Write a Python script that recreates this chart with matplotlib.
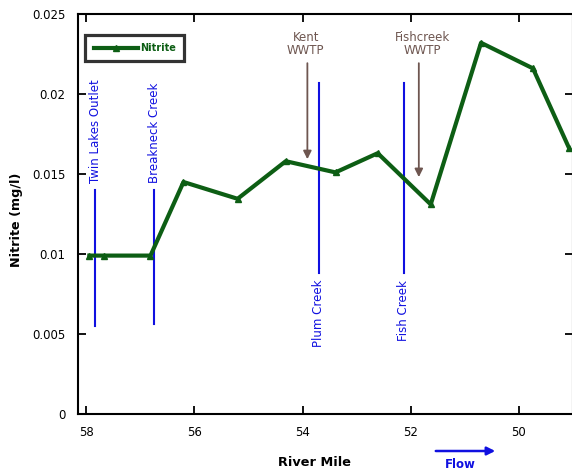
import matplotlib
matplotlib.use("Agg")
import matplotlib.pyplot as plt

plt.rcParams['font.family'] = ['DejaVu Sans']

river_mile = [57.94, 57.67, 56.81, 56.20, 55.20, 54.31, 53.39, 52.61, 51.63, 50.70, 49.74, 49.07]
nitrite = [0.0099, 0.0099, 0.0099, 0.0145, 0.01345, 0.0158, 0.0151, 0.0163, 0.0131, 0.0232, 0.0216, 0.0166]

tributaries = ["Twin Lakes Outlet", "Breakneck Creek", "Plum Creek", "Fish Creek"]
trib_miles = [57.83, 56.74, 53.70, 52.13]

wwtp_labels = ["Kent\nWWTP", "Fishcreek\nWWTP"]
wwtp_miles = [53.91, 51.85]
wwtp_tips = [0.01575, 0.01463]
wwtp_text_miles = [53.94, 51.78]

xticks = [58, 56, 54, 52, 50]
yticks = [0, 0.005, 0.01, 0.015, 0.02, 0.025]
ytick_labels = ["0", "0.005", "0.01", "0.015", "0.02", "0.025"]

fig = plt.figure(figsize=(5.72, 4.71), dpi=100)
ax = fig.add_axes([78/572, 1-414/471, (573-78)/572, (414-14)/471])

green = '#0d5e14'
blue = '#1010e0'
brown = '#6e5650'

ax.plot(river_mile, nitrite, color=green, lw=3, marker='^', ms=4, label='Nitrite', zorder=3)

ax.set_xlim(58.15, 49.0)
ax.set_ylim(0, 0.025)
ax.set_xticks(xticks)
ax.set_xticklabels([str(t) for t in xticks])
ax.set_yticks(yticks)
ax.set_yticklabels(ytick_labels)
ax.tick_params(direction='in', length=6, width=1.3, top=True, right=True, labelsize=8.5, pad=9)
for s in ax.spines.values():
    s.set_linewidth(1.5)

# tributaries
trib_line_ranges = [(0.0055, 0.0140), (0.0056, 0.0140), (0.0088, 0.0207), (0.0088, 0.0207)]
for i, (name, m) in enumerate(zip(tributaries, trib_miles)):
    lo, hi = trib_line_ranges[i]
    ax.plot([m, m], [lo, hi], color=blue, lw=1.5, zorder=2)
    if i < 2:
        ax.text(m, 0.01445, name, rotation=90, ha='center', va='bottom', color=blue, fontsize=8.5)
    else:
        ax.text(m, 0.00838, name, rotation=90, ha='center', va='top', color=blue, fontsize=8.5)

# WWTP arrows
for lab, m, tip, tm in zip(wwtp_labels, wwtp_miles, wwtp_tips, wwtp_text_miles):
    ax.annotate('', xy=(m, tip), xytext=(m, 0.0221),
                arrowprops=dict(arrowstyle='-|>', color=brown, lw=1.3, mutation_scale=12))
    ax.text(tm, 0.0223, lab, ha='center', va='bottom', color=brown, fontsize=8.5, linespacing=1.0)

leg = ax.legend(loc='upper left', bbox_to_anchor=(0.005, 0.96), frameon=True, fancybox=False,
                handlelength=4.6, fontsize=7, borderpad=0.85, handletextpad=0.2, borderaxespad=0.5)
leg.get_frame().set_edgecolor('black')
leg.get_frame().set_linewidth(2.3)
for t in leg.get_texts():
    t.set_color(green)
    t.set_fontweight('bold')

ax.set_ylabel('Nitrite (mg/l)', fontsize=9.2, fontweight='bold')
ax.yaxis.set_label_coords(-0.111, 0.485)
fig.text(314/572, 1-463/471, 'River Mile', ha='center', va='center', fontsize=9.3, fontweight='bold')

# Flow arrow
fig.patches.append(matplotlib.patches.FancyArrowPatch((433/572, 1-451/471), (498/572, 1-451/471),
                   transform=fig.transFigure, arrowstyle='-|>', color=blue, lw=1.8, mutation_scale=12))
fig.text(460/572, 1-465/471, 'Flow', ha='center', va='center', fontsize=8.5, fontweight='bold', color=blue)

fig.savefig('out.png', dpi=100)
